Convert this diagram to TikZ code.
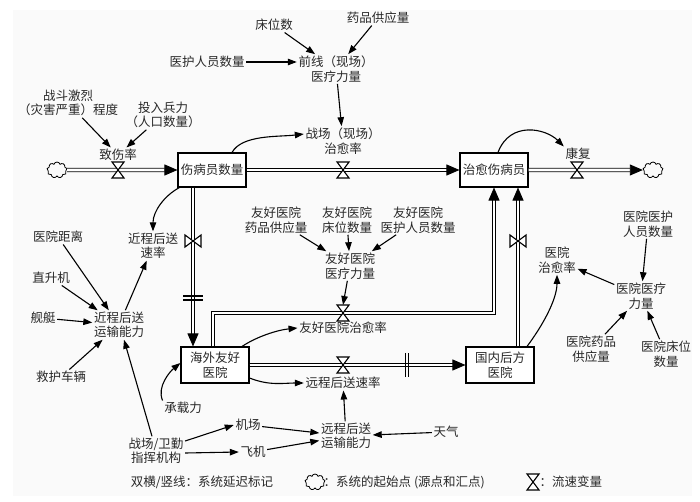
\documentclass[tikz,border=0pt]{standalone}
\usepackage{fontspec}
\setmainfont{Noto Sans CJK SC}
\usepackage{xcolor}
\usetikzlibrary{
  arrows.meta,
  shapes.symbols,
  positioning,
  calc
}
\definecolor{xink}{RGB}{40,40,40}
\definecolor{xpaper}{RGB}{250,250,250}

\begin{document}
\begin{tikzpicture}[
  x=1pt, y=-1pt,
  font=\fontsize{12.5}{14.5}\selectfont, text=xink,
  stock/.style={draw, line width=1.1pt, fill=white, minimum width=68pt,
                minimum height=34pt, inner sep=1pt, align=center},
  aux/.style={align=center, inner sep=1.5pt},
  link/.style={-{Triangle[length=9pt,width=6.5pt]}, line width=1.1pt},
  flow/.style={double, double distance=2.6pt, line width=0.9pt,
               -{Triangle[length=13pt,width=11pt]}},
  sink/.style={cloud, draw, cloud puffs=9, aspect=1.3, minimum width=20pt,
               minimum height=16pt, inner sep=0pt, line width=0.8pt},
  valve/.pic={\draw[line width=1.1pt, fill=white] (-6,-8) -- (6,-8) -- (-6,8) -- (6,8) -- cycle;},
  delay/.style={line width=1.2pt}
]
  \useasboundingbox (0,0) rectangle (700,502);
  \fill[xpaper] (13,10) rectangle (692,496);

  % stocks and clouds
  \node[stock] (hurt)  at (212,170) {伤病员数量};
  \node[stock] (cured) at (494,170) {治愈伤病员};
  \node[stock, minimum height=36pt] (abroad) at (215,365) {海外友好\\医院};
  \node[stock, minimum height=36pt] (home)   at (500,365) {国内后方\\医院};
  \node[sink] (srcL)  at (57,170)  {};
  \node[sink] (sinkR) at (653,170) {};

  % valves
  \coordinate (vInj)    at (118,170);
  \coordinate (vField)  at (343,170);
  \coordinate (vRec)    at (577,170);
  \coordinate (vNear)   at (193,241);
  \coordinate (vFriend) at (343,313);
  \coordinate (vFar)    at (343,365);
  \coordinate (vHome)   at (518,241);
  \coordinate (dV)      at (193,298);
  \coordinate (dH)      at (407,365);

  % flows
  \draw[flow] (srcL) -- (hurt);
  \draw[flow] (hurt) -- (cured);
  \draw[flow] (cured) -- (sinkR);
  \draw[flow] (hurt.south -| vNear) -- (abroad.north -| vNear);
  \draw[flow] (abroad) -- (home);
  \draw[flow] ([xshift=-2pt]abroad.north) |- (vFriend) -| (cured.south);
  \draw[flow] (home.north -| vHome) -- (cured.south -| vHome);

  \foreach \v in {vInj,vField,vRec,vFriend,vFar}
    \pic at (\v) {valve};
  \foreach \v in {vNear,vHome}
    \pic[rotate=90] at (\v) {valve};
  \draw[delay] (dV) ++(-10,-2) -- ++(20,0) (dV) ++(-10,2) -- ++(20,0);
  \draw[delay] (dH) ++(-1.5,-12) -- ++(0,24) (dH) ++(1.5,-12) -- ++(0,24);

  % rates
  \node[aux] (injRate)    at (118,155) {致伤率};
  \node[aux] (fieldRate)  at (343,141) {战场（现场）\\治愈率};
  \node[aux] (recRate)    at (578,154) {康复};
  \node[aux] (nearRate)   at (153,246) {近程后送\\速率};
  \node[aux] (friendRate) at (343,328) {友好医院治愈率};
  \node[aux] (farRate)    at (343,383) {远程后送速率};

  % auxiliaries
  \node[aux] (beds)   at (274,25)  {床位数};
  \node[aux] (drug)   at (378,18)  {药品供应量};
  \node[aux] (staff)  at (207,62)  {医护人员数量};
  \node[aux] (front)  at (336,69)  {前线（现场）\\医疗力量};
  \node[aux] (fight)  at (68,103)  {战斗激烈\\（灾害严重）程度};
  \node[aux] (troops) at (163,115) {投入兵力\\（人口数量）};
  \node[aux] (dist)    at (58,237)  {医院距离};
  \node[aux] (heli)    at (51,278)  {直升机};
  \node[aux] (ship)    at (43,318)  {舰艇};
  \node[aux] (amb)     at (61,377)  {救护车辆};
  \node[aux] (nearCap) at (119,325) {近程后送\\运输能力};
  \node[aux] (cmd)     at (156,451) {战场/卫勤\\指挥机构};
  \node[aux] (load)    at (183,408) {承载力};
  \node[aux] (airport) at (248,425) {机场};
  \node[aux] (plane)   at (253,452) {飞机};
  \node[aux] (farCap)  at (346,436) {远程后送\\运输能力};
  \node[aux] (weather) at (446,432) {天气};
  \node[aux] (fDrug)  at (276,220) {友好医院\\药品供应量};
  \node[aux] (fBed)   at (347,220) {友好医院\\床位数量};
  \node[aux] (fStaff) at (418,220) {友好医院\\医护人员数量};
  \node[aux] (fCap)   at (350,266) {友好医院\\医疗力量};
  \node[aux] (hRate)  at (557,260) {医院\\治愈率};
  \node[aux] (hStaff) at (648,224) {医院医护\\人员数量};
  \node[aux] (hCap)   at (641,296) {医院医疗\\力量};
  \node[aux] (hDrug)  at (591,349) {医院药品\\供应量};
  \node[aux] (hBed)   at (666,354) {医院床位\\数量};

  % links
  \foreach \n in {beds,drug}
    \draw[link] (\n) -- (front);
  \draw[link] (staff.east) -- ([yshift=7pt]front.west);
  \draw[link] (front) -- (fieldRate);
  \draw[link] ([xshift=20pt]hurt.north) .. controls +(10,-18) and +(-25,3) .. ([yshift=7pt]fieldRate.west);
  \foreach \n in {fight,troops}
    \draw[link] (\n) -- (injRate);
  \draw[link] ([xshift=4pt]cured.north) .. controls +(12,-32) and +(-18,-18) .. (recRate.north west);
  \draw[link] ([xshift=2pt]hurt.south west) .. controls +(-15,8) and +(0,-20) .. (nearRate.north);
  \foreach \n in {dist,heli,ship,amb}
    \draw[link] (\n) -- (nearCap);
  \draw[link] (nearCap) -- (nearRate);
  \draw[link] ([xshift=-4pt]cmd.north) -- ([xshift=5pt]nearCap.south);
  \foreach \n in {fDrug,fBed,fStaff}
    \draw[link] (\n) -- (fCap);
  \draw[link] (fCap) -- ([yshift=8pt]vFriend);
  \draw[link] ([xshift=27pt]abroad.north) .. controls +(15,-10) and +(-20,2) .. (friendRate.west);
  \draw[link] ([yshift=-13pt]abroad.east) .. controls +(20,8) and +(-20,0) .. (farRate.west);
  \draw[link] (load.north west) .. controls +(-6,-14) and +(-10,8) .. ([yshift=2pt]abroad.west);
  \draw[link] ([yshift=10pt]cmd.east) -- (airport.west);
  \draw[link] ([yshift=-2pt]cmd.east) -- (plane.west);
  \foreach \n in {airport,plane,weather}
    \draw[link] (\n) -- (farCap);
  \draw[link] (farCap) -- (farRate);
  \draw[link] ([xshift=27pt]home.north) .. controls +(15,-20) and +(0,25) .. (hRate.south);
  \foreach \n in {hStaff,hDrug,hBed}
    \draw[link] (\n) -- (hCap);
  \draw[link] (hCap) -- (hRate);

  % legend
  \node[aux] (legDelay) at (202,482) {双横/竖线：系统延迟标记};
  \node[sink] (legCloud) at (315,482) {};
  \node[aux, anchor=west] (legSrc) at (322,482) {：系统的起始点 (源点和汇点)};
  \coordinate (legV) at (533,482);
  \pic at (legV) {valve};
  \node[aux, anchor=west] (legRate) at (538,482) {：流速变量};
\end{tikzpicture}
\end{document}
